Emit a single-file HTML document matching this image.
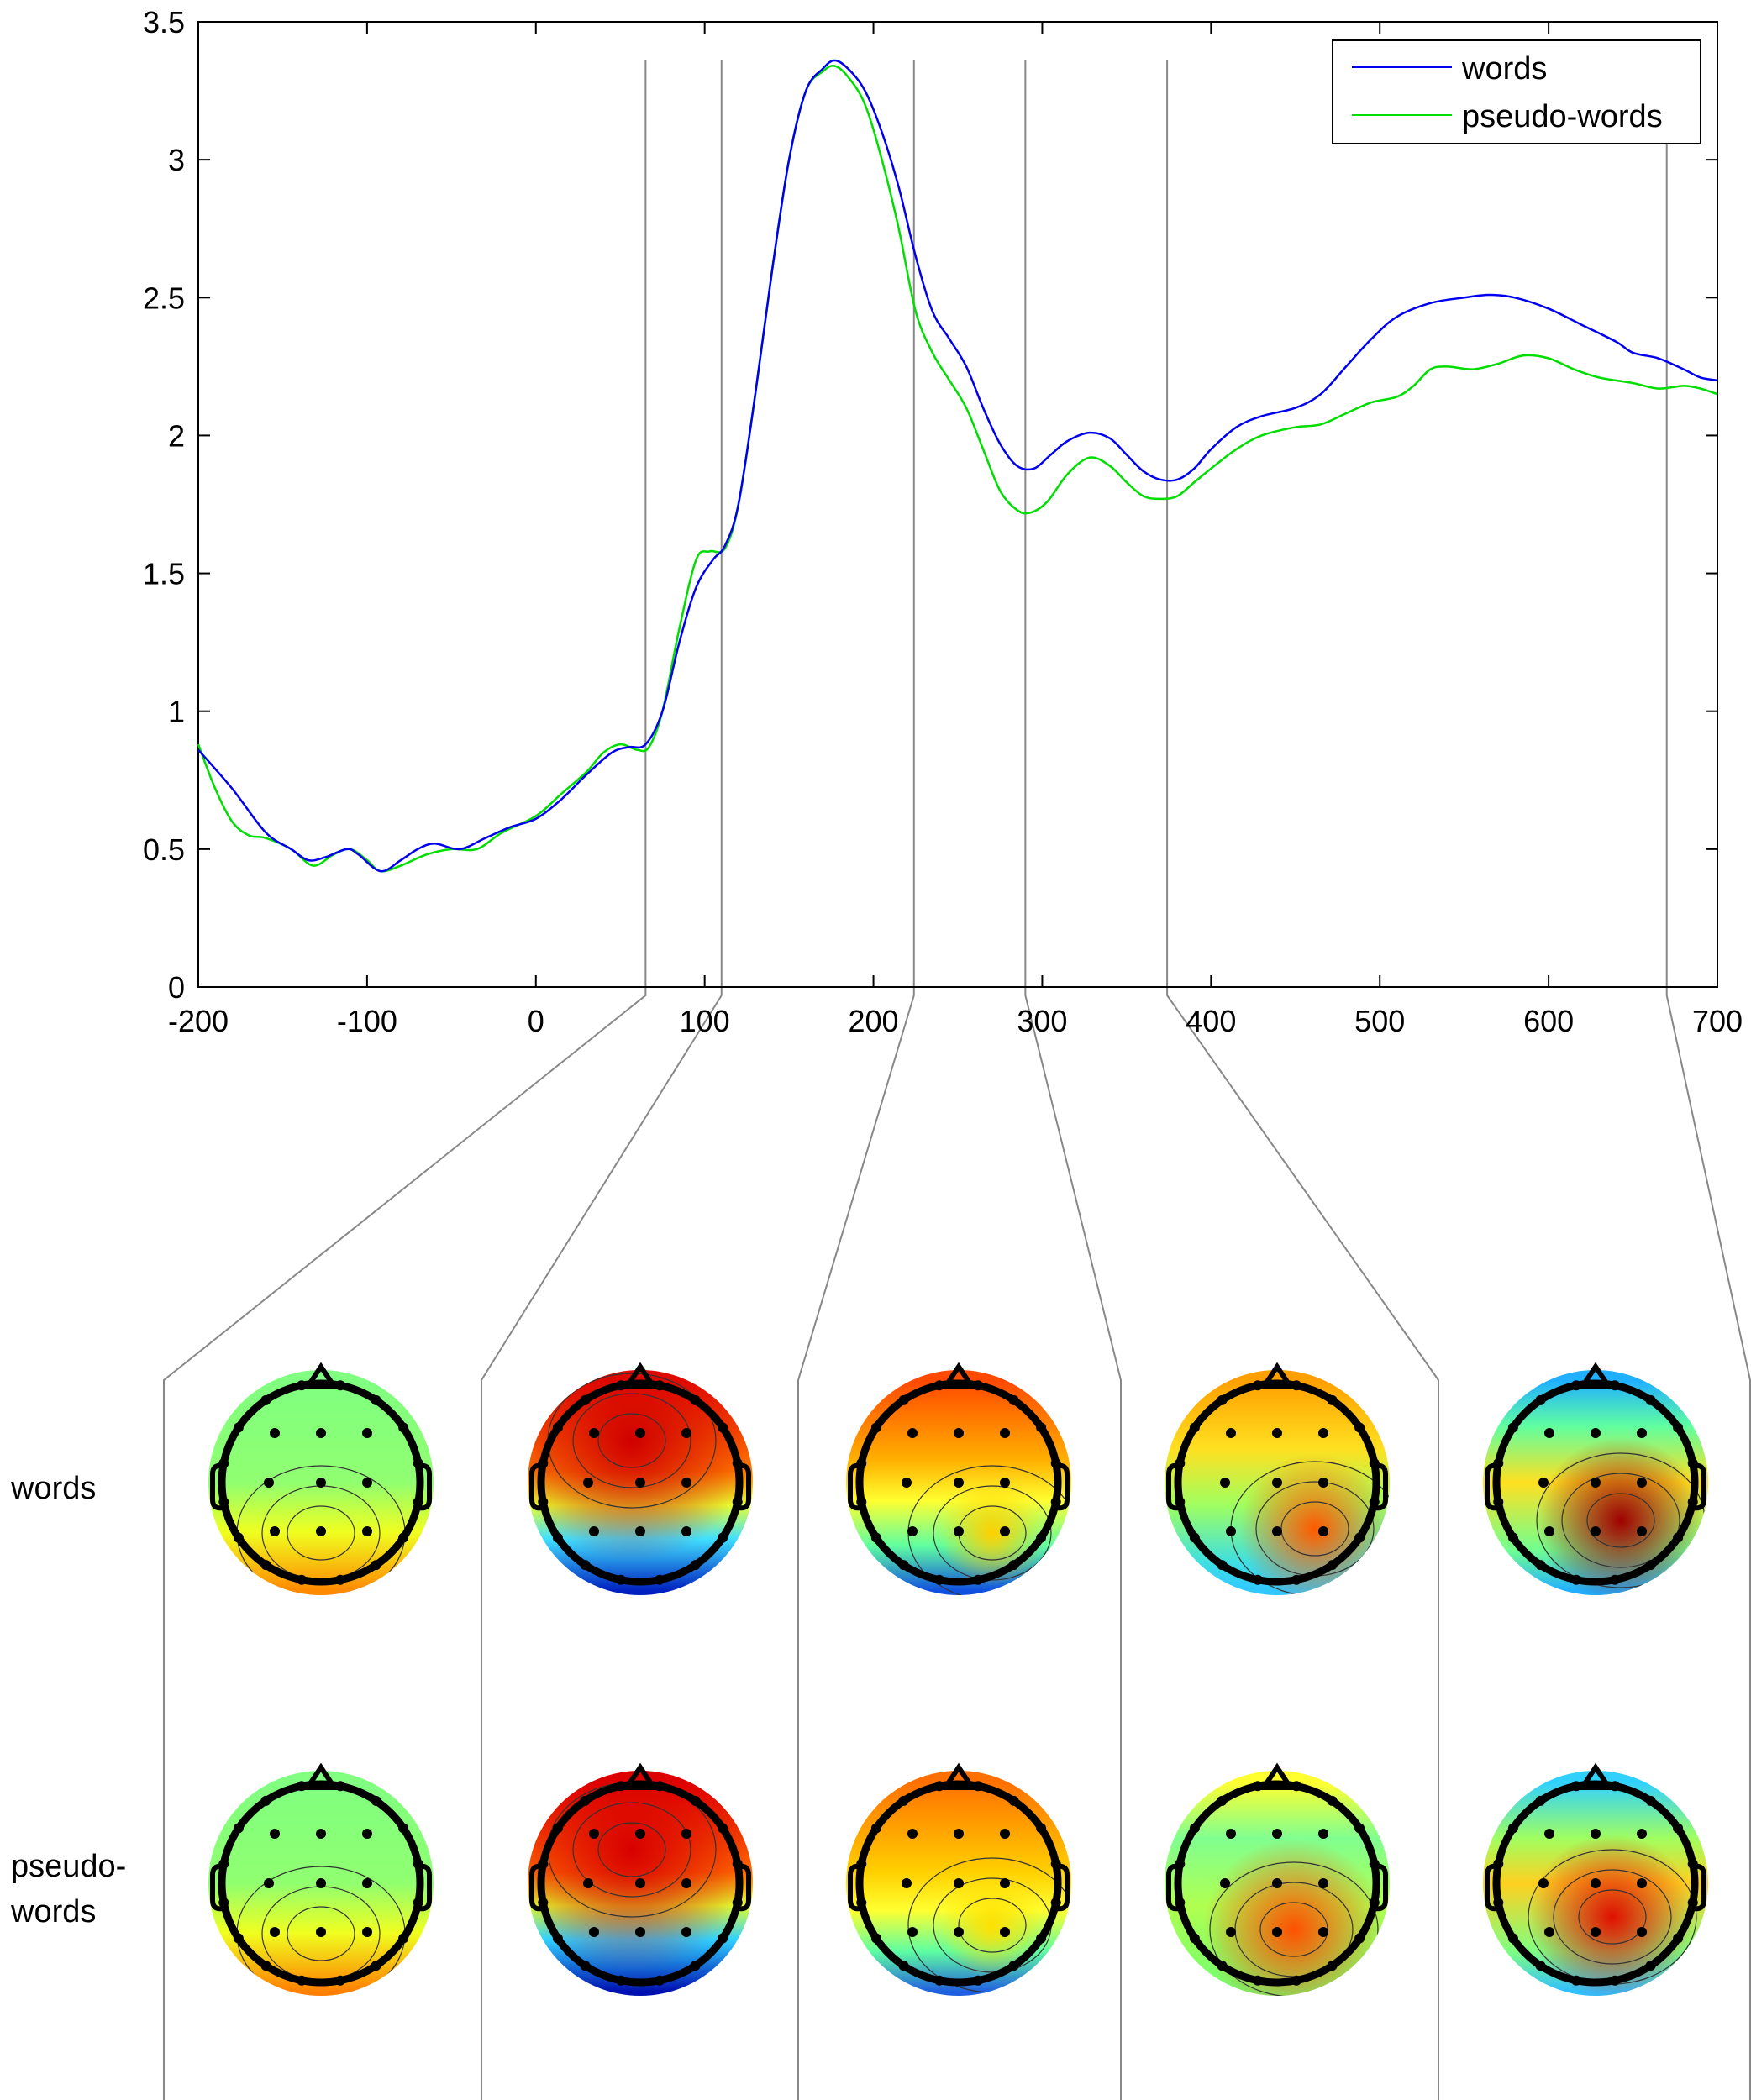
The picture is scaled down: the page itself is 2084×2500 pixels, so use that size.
<!DOCTYPE html>
<html><head><meta charset="utf-8"><style>
html,body{margin:0;padding:0;background:#fff}
svg{display:block;font-family:"Liberation Sans",sans-serif}
</style></head><body>
<svg id="fig" xmlns="http://www.w3.org/2000/svg" width="2084" height="2500" viewBox="0 0 2084 2500">
<defs></defs>
<g id="plot"></g>
<g id="legend">
  <rect x="1586" y="48" width="438" height="123" fill="#fff" stroke="#000" stroke-width="2"/>
  <line x1="1609" y1="80" x2="1728" y2="80" stroke="#0000ee" stroke-width="2"/>
  <text x="1740" y="94" font-size="38">words</text>
  <line x1="1609" y1="137" x2="1728" y2="137" stroke="#00dd00" stroke-width="2"/>
  <text x="1740" y="151" font-size="38">pseudo-words</text>
</g>
<text x="13" y="1784" font-size="38">words</text>
<text x="13" y="2234" font-size="38">pseudo-</text>
<text x="13" y="2288" font-size="38">words</text>
<g id="topos"></g>
</svg>
<script>
const xTicks=[-200,-100,0,100,200,300,400,500,600,700];
const yTicks=[0,0.5,1,1.5,2,2.5,3,3.5];
const yTickLabels=["0","0.5","1","1.5","2","2.5","3","3.5"];
const markerTimes=[65,110,224,290,374,670];
const wordsT=[-200,-180,-160,-145,-135,-125,-112,-105,-92,-80,-70,-60,-45,-30,-15,0,15,30,45,55,65,75,85,95,105,112,120,130,140,150,160,170,177,185,195,205,215,225,235,245,255,265,275,285,295,305,315,328,340,350,360,370,380,390,400,415,430,450,465,480,495,510,530,550,565,580,600,620,640,650,665,680,690,700];
const wordsV=[0.86,0.72,0.56,0.50,0.46,0.47,0.50,0.48,0.42,0.46,0.50,0.52,0.50,0.54,0.58,0.61,0.68,0.77,0.85,0.87,0.88,1.00,1.25,1.45,1.55,1.60,1.75,2.15,2.60,3.00,3.25,3.33,3.36,3.33,3.25,3.10,2.90,2.65,2.45,2.35,2.25,2.10,1.97,1.89,1.88,1.93,1.98,2.01,1.99,1.93,1.87,1.84,1.84,1.88,1.95,2.03,2.07,2.10,2.15,2.25,2.35,2.43,2.48,2.50,2.51,2.50,2.46,2.40,2.34,2.30,2.28,2.24,2.21,2.20];
const pseudoT=[-200,-190,-180,-170,-160,-145,-132,-120,-110,-100,-92,-80,-65,-50,-35,-20,0,15,30,40,50,60,67,75,85,95,103,112,120,130,140,150,160,170,177,185,195,205,215,225,235,245,255,265,275,285,293,303,315,328,340,350,360,370,380,390,400,415,430,450,465,480,495,510,520,530,540,555,570,585,600,615,630,650,665,680,690,700];
const pseudoV=[0.88,0.72,0.60,0.55,0.54,0.50,0.44,0.48,0.50,0.46,0.42,0.44,0.48,0.50,0.50,0.56,0.62,0.70,0.78,0.85,0.88,0.86,0.87,1.00,1.30,1.55,1.58,1.59,1.75,2.15,2.60,3.00,3.25,3.32,3.34,3.30,3.20,3.00,2.75,2.45,2.30,2.20,2.10,1.95,1.80,1.73,1.72,1.76,1.86,1.92,1.89,1.83,1.78,1.77,1.78,1.83,1.88,1.95,2.00,2.03,2.04,2.08,2.12,2.14,2.18,2.24,2.25,2.24,2.26,2.29,2.28,2.24,2.21,2.19,2.17,2.18,2.17,2.15];

const NS="http://www.w3.org/2000/svg";
const L=236,R=2044,T=26,B=1175;
const X=v=>L+(v+200)/900*(R-L);
const Y=v=>B-v/3.5*(B-T);
function mk(tag,attrs,parent){const e=document.createElementNS(NS,tag);for(const k in attrs)e.setAttribute(k,attrs[k]);parent.appendChild(e);return e;}
const plot=document.getElementById('plot');

const panelX=[195,573,950,1334,1712,2083];
markerTimes.forEach((t,i)=>{
  const x=X(t);
  const p=mk('polyline',{points:`${x},72 ${x},1185 ${panelX[i]},1643 ${panelX[i]},2500`,fill:'none',stroke:'#888',"stroke-width":2},plot);
  
  
});

const box=mk('rect',{x:L,y:T,width:R-L,height:B-T,fill:'none',stroke:'#000','stroke-width':2},plot);


xTicks.forEach(v=>{
  const x=X(v);
  mk('line',{x1:x,y1:B,x2:x,y2:B-14,stroke:'#000','stroke-width':2},plot);
  mk('line',{x1:x,y1:T,x2:x,y2:T+14,stroke:'#000','stroke-width':2},plot);
  const t=mk('text',{x:x,y:1228,'font-size':36,'text-anchor':'middle'},plot);
  t.textContent=String(v);
  
  
});
yTicks.forEach((v,i)=>{
  const y=Y(v);
  mk('line',{x1:L,y1:y,x2:L+14,y2:y,stroke:'#000','stroke-width':2},plot);
  mk('line',{x1:R,y1:y,x2:R-14,y2:y,stroke:'#000','stroke-width':2},plot);
  const t=mk('text',{x:220,y:y+13,'font-size':36,'text-anchor':'end'},plot);
  t.textContent=yTickLabels[i];
  
  
});
function curve(ts,vs,color,name){
  const pts=ts.map((t,i)=>[X(t),Y(vs[i])]);
  let d=`M${pts[0][0]},${pts[0][1]}`;
  for(let i=0;i<pts.length-1;i++){
    const p0=pts[Math.max(0,i-1)],p1=pts[i],p2=pts[i+1],p3=pts[Math.min(pts.length-1,i+2)];
    const c1=[p1[0]+(p2[0]-p0[0])/6,p1[1]+(p2[1]-p0[1])/6];
    const c2=[p2[0]-(p3[0]-p1[0])/6,p2[1]-(p3[1]-p1[1])/6];
    d+=` C${c1[0]},${c1[1]} ${c2[0]},${c2[1]} ${p2[0]},${p2[1]}`;
  }
  const p=mk('path',{d:d,fill:'none',stroke:color,'stroke-width':2.5},plot);
  
  
}
curve(pseudoT,pseudoV,'#00dd00','pseudo-words-line');
curve(wordsT,wordsV,'#0000ee','words-line');

const cx=[382,762,1141,1520,1899], cy=[1765,2242];
const defs=document.querySelector('defs');
// gradient stops [offset,color] ; blob [dx,dy,r,color]
const maps=[
 [[[0.05,"#80ff80"],[0.5,"#90ff70"],[0.72,"#f0ff20"],[0.98,"#ff8a00"]],null],
 [[[0.05,"#e81000"],[0.45,"#ff7a00"],[0.6,"#e8ff30"],[0.75,"#40e0ff"],[0.98,"#0020c0"]],[-10,-50,80,"#d00000"]],
 [[[0.05,"#ff4a00"],[0.4,"#ffb000"],[0.58,"#ffff30"],[0.78,"#60ffa0"],[0.98,"#1050e0"]],[40,60,35,"#ffd000"]],
 [[[0.05,"#ffa000"],[0.35,"#ffe020"],[0.6,"#a0ff60"],[0.85,"#40e0e0"],[0.98,"#30c8ff"]],[45,55,50,"#ff5a00"]],
 [[[0.05,"#20b0ff"],[0.25,"#60ffa0"],[0.5,"#ffe020"],[0.8,"#70ff90"],[0.98,"#20b0ff"]],[30,45,55,"#a00000"]],
 [[[0.05,"#80ff80"],[0.5,"#90ff70"],[0.72,"#f0ff20"],[0.98,"#ff8000"]],null],
 [[[0.05,"#e00000"],[0.45,"#ff6a00"],[0.6,"#e0ff30"],[0.75,"#30d0ff"],[0.98,"#0010b0"]],[-10,-40,80,"#d80000"]],
 [[[0.05,"#ff7000"],[0.45,"#ffd000"],[0.62,"#ffff30"],[0.8,"#60ffa0"],[0.98,"#2060e0"]],[40,50,35,"#ffe000"]],
 [[[0.05,"#ffff30"],[0.3,"#80ff90"],[0.6,"#b0ff50"],[0.98,"#70ff70"]],[20,55,60,"#ff5000"]],
 [[[0.05,"#30d0ff"],[0.3,"#a0ff60"],[0.5,"#ffd020"],[0.8,"#80ff80"],[0.98,"#30c0ff"]],[20,40,55,"#e01000"]]
];
const topos=document.getElementById('topos');
maps.forEach((m,k)=>{
  const x=cx[k%5], y=cy[Math.floor(k/5)];
  const g=mk('g',{},topos);
  
  
  const lg=mk('linearGradient',{id:'lg'+k,x1:0,y1:0,x2:0,y2:1},defs);
  m[0].forEach(s=>mk('stop',{offset:s[0],"stop-color":s[1]},lg));
  const cp=mk('clipPath',{id:'cp'+k},defs);
  mk('circle',{cx:x,cy:y,r:134},cp);
  mk('circle',{cx:x,cy:y,r:134,fill:`url(#lg${k})`},g);
  if(m[1]){
    const rg=mk('radialGradient',{id:'rg'+k},defs);
    mk('stop',{offset:'0',"stop-color":m[1][3],"stop-opacity":1},rg);
    mk('stop',{offset:'1',"stop-color":m[1][3],"stop-opacity":0},rg);
    mk('circle',{cx:x+m[1][0],cy:y+m[1][1],r:m[1][2]*1.8,fill:`url(#rg${k})`,'clip-path':`url(#cp${k})`},g);
  }
  [40,70,100].forEach(r=>mk('ellipse',{cx:x+(m[1]?m[1][0]:0),cy:y+(m[1]?m[1][1]:60),rx:r,ry:r*0.8,fill:'none',stroke:'#333','stroke-width':1.2,'clip-path':`url(#cp${k})`},g));
  mk('circle',{cx:x,cy:y,r:118,fill:'none',stroke:'#000','stroke-width':9},g);
  mk('polygon',{points:`${x-16},${y-114} ${x},${y-138} ${x+16},${y-114}`,fill:'none',stroke:'#000','stroke-width':6},g);
  mk('path',{d:`M${x-117},${y-20} q-12,-2 -12,10 v30 q0,12 12,10`,fill:'none',stroke:'#000','stroke-width':6},g);
  mk('path',{d:`M${x+117},${y-20} q12,-2 12,10 v30 q0,12 -12,10`,fill:'none',stroke:'#000','stroke-width':6},g);
  const inner=[[-55,-59],[0,-59],[55,-59],[-62,0],[0,0],[55,0],[-55,58],[0,58],[55,58]];
  inner.forEach(p=>mk('circle',{cx:x+p[0],cy:y+p[1],r:6,fill:'#000'},g));
  for(let a=0;a<16;a++){
    const ang=(a*22.5+11.25)*Math.PI/180;
    mk('circle',{cx:x+118*Math.sin(ang),cy:y-118*Math.cos(ang),r:6,fill:'#000'},g);
  }
});
</script>
</body></html>
